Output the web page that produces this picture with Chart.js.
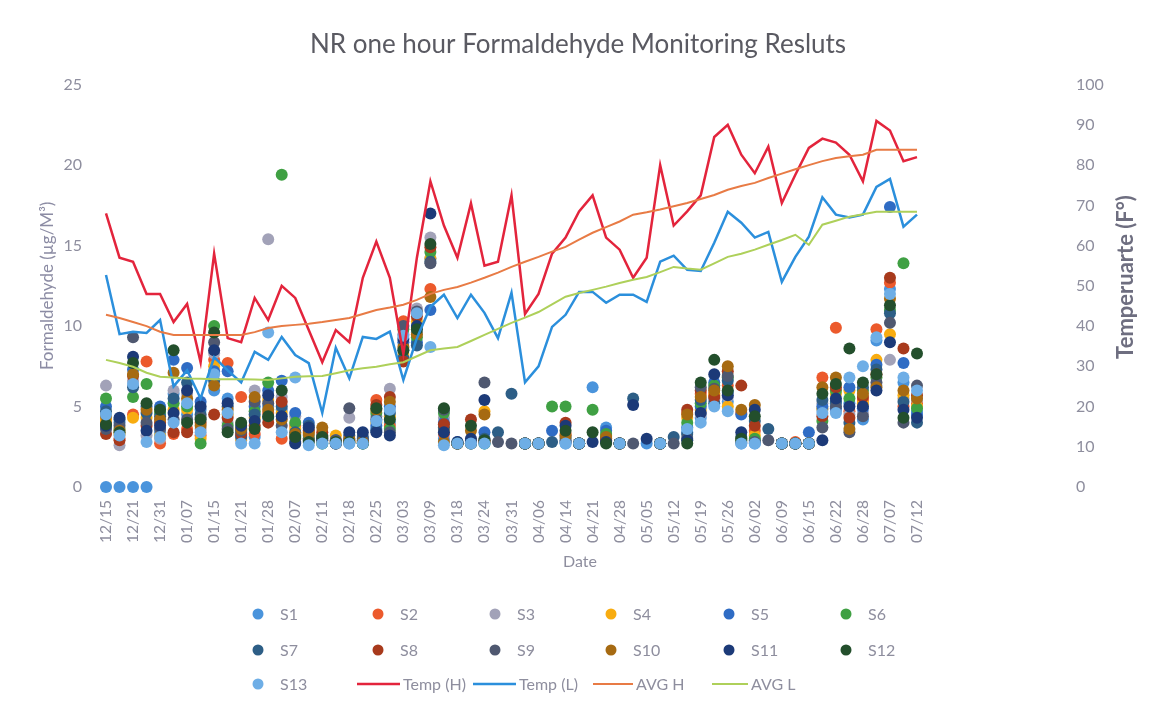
<!DOCTYPE html>
<html>
<head>
<meta charset="utf-8">
<script src="https://cdn.jsdelivr.net/npm/chart.js@4.4.1/dist/chart.umd.min.js"></script>
<style>
  html, body { margin: 0; padding: 0; background: #fff; }
</style>
</head>
<body>
<canvas id="myChart" width="1156" height="701"></canvas>
<script>
// dates (every other one is shown on the axis)
const dates = ['12/15','12/18','12/21','12/24','12/31','01/03','01/07','01/10','01/15','01/17',
  '01/21','01/24','01/28','02/01','02/07','02/09','02/11','02/14','02/18','02/21',
  '02/25','02/28','03/03','03/06','03/09','03/14','03/18','03/21','03/24','03/28',
  '03/31','04/02','04/06','04/10','04/14','04/18','04/21','04/25','04/28','05/01',
  '05/05','05/08','05/12','05/15','05/19','05/22','05/26','05/29','06/02','06/05',
  '06/09','06/12','06/15','06/19','06/22','06/25','06/28','07/03','07/07','07/09','07/12'];

// formaldehyde, ug/M3
const s1 = [0,0,0,0,3.4,5.8,4.5,4.8,6.0,5.5, 3.4,3.1,5.0,4.8,3.2,3.2,2.7,2.7,2.7,2.7,
  3.6,4.0,8.5,9.6,14.2,3.0,2.7,2.7,2.7,null, null,2.7,2.7,null,2.7,2.7,6.2,3.7,2.7,null,
  2.7,2.7,null,3.4,4.3,5.5,5.3,2.7,2.7,null, 2.7,2.7,2.7,4.8,5.2,5.2,4.2,9.1,12.3,6.5, 4.7];
const s2 = [4.0,3.0,4.5,7.8,2.7,3.3,3.6,3.2,7.9,7.7, 5.6,3.3,4.6,3.0,3.8,3.0,3.1,2.8,2.9,2.8,
  5.4,3.8,10.3,9.9,12.3,3.3,2.7,2.8,2.9,null, null,2.7,2.7,null,3.3,2.7,null,3.0,2.7,null,
  null,2.7,null,4.6,5.8,5.8,6.3,4.6,3.5,null, 2.7,2.8,2.7,6.8,9.9,4.7,5.4,9.8,12.7,5.0, 5.2];
const s3 = [6.3,2.6,6.6,3.2,3.0,6.0,5.8,3.6,8.3,4.0, 2.9,6.0,15.4,5.6,4.4,3.6,2.8,2.8,4.3,2.9,
  4.4,6.1,9.5,11.1,15.5,4.3,2.7,2.7,2.8,null, null,2.7,2.7,null,2.8,2.7,null,3.1,2.7,null,
  null,2.7,null,3.1,4.5,5.4,5.6,2.8,2.8,null, 2.7,2.7,2.7,5.2,4.7,4.5,4.6,6.3,7.9,5.5, 5.4];
const s4 = [4.2,3.3,4.3,4.3,3.2,4.8,4.8,3.0,7.5,4.5, 3.0,4.3,5.4,4.6,3.6,3.4,2.9,3.2,2.9,2.8,
  4.0,4.4,8.2,10.3,14.2,3.6,2.7,2.9,4.7,null, null,2.7,2.7,null,3.0,2.7,null,3.2,2.7,null,
  null,2.7,null,4.3,4.8,5.7,5.0,3.0,3.2,null, 2.7,2.7,2.7,4.9,5.8,6.0,5.2,7.9,9.5,5.7, 5.0];
const s5 = [5.0,4.0,7.3,5.0,5.0,7.9,7.4,5.3,7.2,7.2, 3.2,5.0,6.0,6.6,4.6,4.0,3.0,2.9,3.0,3.0,
  3.8,5.0,9.0,9.0,11.0,4.0,2.8,2.8,3.4,null, null,2.7,2.7,3.5,2.9,2.7,null,3.5,2.7,null,
  null,2.7,null,3.7,5.0,6.5,5.9,4.5,2.9,null, 2.7,2.7,3.4,5.0,4.9,6.2,4.9,7.6,17.4,7.7, 4.5];
const s6 = [5.5,3.6,5.6,6.4,4.6,5.2,5.0,2.7,10.0,3.8, 3.6,4.7,6.5,19.4,4.0,3.0,2.7,2.7,2.8,2.7,
  4.6,3.6,9.8,9.3,14.6,4.6,2.7,2.7,2.7,null, null,2.7,2.7,5.0,5.0,2.7,4.8,3.3,2.7,null,
  null,2.7,null,4.0,5.2,6.3,6.8,2.9,3.0,null, 2.7,2.7,2.7,4.1,6.0,5.5,6.0,6.8,11.0,13.9, 4.9];
const s7 = [4.7,4.2,6.2,4.6,4.4,5.5,6.5,4.5,6.6,5.0, 3.1,4.5,4.3,5.0,3.4,3.8,3.2,2.8,3.2,3.1,
  3.5,4.6,8.0,8.8,14.0,3.7,2.7,2.8,3.0,3.4, 5.8,2.7,2.7,2.8,3.1,2.7,null,3.0,2.7,5.5,
  null,2.7,3.1,3.3,5.4,5.2,6.6,3.1,4.1,3.6, 2.7,2.7,2.7,5.4,5.3,4.0,6.2,7.3,10.8,5.3, 4.0];
const s8 = [3.3,2.9,6.9,3.8,4.0,3.4,3.4,4.0,4.5,4.3, 3.3,3.8,4.0,5.3,3.0,3.5,3.4,2.7,2.8,2.8,
  5.1,5.6,7.8,10.6,14.9,3.9,2.7,4.2,2.8,null, null,2.7,2.7,null,4.0,2.7,null,2.9,2.7,null,
  null,2.7,null,4.8,6.0,5.6,7.2,6.3,3.8,null, 2.7,2.7,2.7,4.4,6.2,4.3,5.6,7.0,13.0,8.6, 5.7];
const s9 = [3.6,3.8,9.3,4.0,3.6,4.2,4.2,4.3,9.0,3.6, 3.5,5.3,5.2,3.8,2.8,2.9,2.9,2.9,4.9,2.9,
  4.2,3.4,10.0,10.9,13.9,4.8,2.7,2.7,6.5,2.8, 2.7,2.7,2.7,null,2.8,2.7,null,2.8,2.7,2.7,
  null,2.7,2.7,3.0,6.2,6.1,6.9,2.8,2.8,2.9, 2.7,2.7,2.7,3.7,5.0,3.4,4.4,6.5,10.2,4.0, 6.3];
const s10 = [4.4,3.5,7.0,4.8,4.2,7.1,5.5,3.8,6.3,4.8, 3.6,5.6,4.8,4.2,3.3,3.3,3.7,2.8,3.0,2.8,
  4.8,5.3,8.7,9.5,11.8,2.8,2.7,3.5,4.5,null, null,2.7,2.7,null,3.2,2.7,null,3.1,2.7,null,
  null,2.7,null,4.5,5.6,6.0,7.5,4.8,5.1,null, 2.7,2.7,2.7,6.2,6.8,3.6,5.8,6.2,11.7,6.0, 5.5];
const s11 = [3.8,4.3,8.1,3.5,3.8,4.6,6.0,5.0,8.5,5.2, 3.8,4.1,5.7,4.4,2.7,3.7,3.0,2.7,3.4,3.4,
  3.4,3.2,9.2,10.0,17.0,3.4,2.8,3.0,5.4,null, null,2.7,2.7,null,3.8,2.7,2.8,2.8,2.7,5.1,
  3.0,2.7,null,2.9,4.6,7.0,5.7,3.4,4.8,null, 2.7,2.7,2.7,2.9,5.5,5.0,5.0,6.0,9.0,4.8, 4.3];
const s12 = [3.9,3.4,7.7,5.2,4.8,8.5,4.0,4.2,9.6,3.4, 4.0,3.6,4.4,6.0,3.1,2.8,3.1,2.8,2.8,2.7,
  4.9,4.2,8.5,9.8,15.1,4.9,2.7,3.8,2.9,null, null,2.7,2.7,null,3.5,2.7,3.4,2.7,2.7,null,
  null,2.7,null,2.7,6.5,7.9,6.0,3.0,4.4,null, 2.7,2.7,2.7,5.8,6.4,8.6,6.5,7.0,11.3,4.3, 8.3];
const s13 = [4.5,3.2,6.4,2.8,3.1,4.0,5.2,3.4,7.0,4.6, 2.7,2.7,9.6,3.4,6.8,2.6,2.7,2.7,2.7,2.7,
  4.1,4.8,9.4,10.8,8.7,2.6,2.7,2.7,2.7,null, null,2.7,2.7,null,2.7,2.7,null,null,2.7,null,
  null,2.7,null,3.6,4.0,5.0,4.7,2.7,2.7,null, 2.7,2.7,2.7,4.6,4.6,6.8,7.5,9.3,12.0,6.8, 6.0];

// temperature, F
const tempH = [68,57,56,48,48,41,45.5,31,58,37, 36,47,41.5,50,47,39,31,39,36,52,
  61,52,33,57,76,65,57,70.5,55,56, 72.5,43,48,58,62,68.5,72.5,62,59,52,
  57,80,65,68.5,72.5,87,90,82.6,78,84.6, 70.6,77.6,84.3,86.6,85.6,82.6,76,91,88.6,81, 82];
const tempL = [52.7,38,38.6,38.3,41.5,25,29,22,32.3,29, 26,33.6,31.6,37.3,32.8,30.8,18.4,34.6,27,37.3,
  36.8,38.6,26.6,37,44.8,47.8,42,47.8,43.3,37, 48.3,26,30,39.8,42.8,48.5,48.5,45.8,47.8,47.8,
  46,56,57.5,54,53.7,60.7,68.4,65.7,62,63.4, 51,57.2,62.2,72,67.7,67,67.7,74.6,76.6,64.7, 67.7];
const avgH = [42.8,42,41,40,38.6,37.8,37.8,37.8,37.8,37.8, 37.8,38.5,39.5,40,40.3,40.6,41,41.5,42,43,
  44,44.6,45.3,46.5,48,49,49.7,50.8,52,53.3, 54.7,56,57.2,58.5,59.7,61.5,63.2,64.6,66,67.7,
  68.3,69,69.8,70.6,71.6,72.6,73.9,74.8,75.6,76.8, 77.9,79,80,81,81.8,82.2,82.6,83.8,83.8,83.8, 83.8];
const avgL = [31.6,30.8,29.9,28.4,27.4,27.2,27,26.9,26.8,26.8, 26.8,26.7,26.6,27,27.4,27.5,27.6,28.3,29,29.5,
  29.9,30.5,31,32.5,34,34.4,34.8,36.3,37.8,39.3, 40.8,42.1,43.5,45.4,47.3,48.2,49,49.8,50.7,51.5,
  52.2,53.4,54.7,54.3,54,55.6,57.2,58,59,60.2, 61.4,62.7,60.2,65.2,66.2,67.2,67.8,68.4,68.4,68.4, 68.4];

const sensors = [s1,s2,s3,s4,s5,s6,s7,s8,s9,s10,s11,s12,s13];
const sensorColors = ['#4a94dc','#ec5a2c','#a2a2b8','#f8ac10','#2f6cc4','#3fa043','#2d5e86',
  '#a83a1c','#4f5870','#a66a12','#1c3a78','#234f2c','#6eaee6'];

const lineNames = ['Temp (H)', 'Temp (L)', 'AVG H', 'AVG L'];
const lineData = [tempH, tempL, avgH, avgL];
const lineColors = ['#e3243c', '#2b8fdc', '#e87b45', '#aed05a'];
const lineWidths = [2.5, 2.5, 2, 2];

const textGray = '#8e8e9e';
Chart.defaults.font.family = 'Lato, "Open Sans", sans-serif';

let datasets = [];
for (let i = 0; i < sensors.length; i++) {
  datasets.push({
    label: 'S' + (i + 1),
    data: sensors[i],
    yAxisID: 'y',
    showLine: false,
    pointRadius: 6,
    pointBorderWidth: 0,
    pointBackgroundColor: sensorColors[i],
    pointBorderColor: sensorColors[i],
    backgroundColor: sensorColors[i],
    borderColor: sensorColors[i],
    clip: false,
    order: 17 - i
  });
}
for (let i = 0; i < lineData.length; i++) {
  datasets.push({
    label: lineNames[i],
    data: lineData[i],
    yAxisID: 'y2',
    borderColor: lineColors[i],
    backgroundColor: lineColors[i],
    borderWidth: lineWidths[i],
    pointRadius: 0,
    fill: false,
    tension: 0,
    clip: false,
    order: 4 - i
  });
}

// legend, right-axis title and x title drawn by hand
const extras = {
  id: 'extras',
  afterDraw(chart) {
    const ctx = chart.ctx;
    ctx.save();
    ctx.textBaseline = 'middle';

    ctx.fillStyle = textGray;
    ctx.font = '16px Lato';
    ctx.textAlign = 'center';
    ctx.fillText('Date', 580, 562);

    ctx.save();
    ctx.translate(1126, 277);
    ctx.rotate(-Math.PI / 2);
    ctx.font = 'bold 22px Lato';
    ctx.fillStyle = '#6e6e80';
    ctx.fillText('Temperuarte (F°)', 0, 0);
    ctx.restore();

    const colX = [258, 378, 495, 611, 729, 846];
    const rowY = [614, 650, 684];
    ctx.font = '16px Lato';
    ctx.textAlign = 'left';
    const ds = chart.data.datasets;
    for (let i = 0; i < 13; i++) {
      const x = colX[i % 6], y = rowY[Math.floor(i / 6)];
      ctx.beginPath();
      ctx.arc(x, y, 5.5, 0, Math.PI * 2);
      ctx.fillStyle = ds[i].pointBackgroundColor;
      ctx.fill();
      ctx.fillStyle = textGray;
      ctx.fillText(ds[i].label, x + 22, y + 1);
    }
    const lineX = [[357, 400], [473, 516], [593, 633], [712, 748]];
    for (let j = 0; j < 4; j++) {
      const d = ds[13 + j], y = rowY[2];
      ctx.beginPath();
      ctx.moveTo(lineX[j][0], y);
      ctx.lineTo(lineX[j][1], y);
      ctx.strokeStyle = d.borderColor;
      ctx.lineWidth = d.borderWidth;
      ctx.stroke();
      ctx.fillStyle = textGray;
      ctx.fillText(d.label, lineX[j][1] + 3, y + 1);
    }
    ctx.restore();
  }
};

// keep the tick padding from pushing the plot area down
function fixVertical(scale, w) {
  scale.width = w;
  scale.paddingTop = 10;
  scale.paddingBottom = 10;
}

const ctx = document.getElementById('myChart').getContext('2d');
const myChart = new Chart(ctx, {
  type: 'line',
  data: {
    labels: dates,
    datasets: datasets
  },
  options: {
    responsive: false,
    animation: false,
    layout: { padding: { left: 0, right: 0, top: 0, bottom: 134 } },
    plugins: {
      legend: { display: false },
      tooltip: { enabled: false },
      title: {
        display: true,
        text: 'NR one hour Formaldehyde Monitoring Resluts',
        color: '#5a5a62',
        font: { size: 26, weight: 'normal' },
        padding: { top: 29, bottom: 24.5 }
      }
    },
    scales: {
      x: {
        offset: false,
        grid: { display: false, drawTicks: false },
        border: { display: false },
        ticks: {
          autoSkip: false,
          minRotation: 90,
          maxRotation: 90,
          padding: 13,
          color: textGray,
          font: { size: 15.5 },
          callback: function(value, index) {
            return index % 2 === 0 ? this.getLabelForValue(value) : '';
          }
        },
        afterFit: (scale) => { scale.height = 80; }
      },
      y: {
        position: 'left',
        min: 0,
        max: 25,
        grid: { display: false, drawTicks: false },
        border: { display: false },
        ticks: { stepSize: 5, padding: 24, color: textGray, font: { size: 16 } },
        title: {
          display: true,
          text: 'Formaldehyde (µg/M³)',
          color: '#8c8ca4',
          font: { size: 17 },
          padding: { top: 37, bottom: 0 }
        },
        afterFit: (scale) => fixVertical(scale, 106)
      },
      y2: {
        position: 'right',
        min: 0,
        max: 100,
        grid: { display: false, drawTicks: false },
        border: { display: false },
        ticks: { stepSize: 10, padding: 159, color: textGray, font: { size: 16 } },
        afterFit: (scale) => fixVertical(scale, 239)
      }
    }
  },
  plugins: [extras]
});
</script>
</body>
</html>
